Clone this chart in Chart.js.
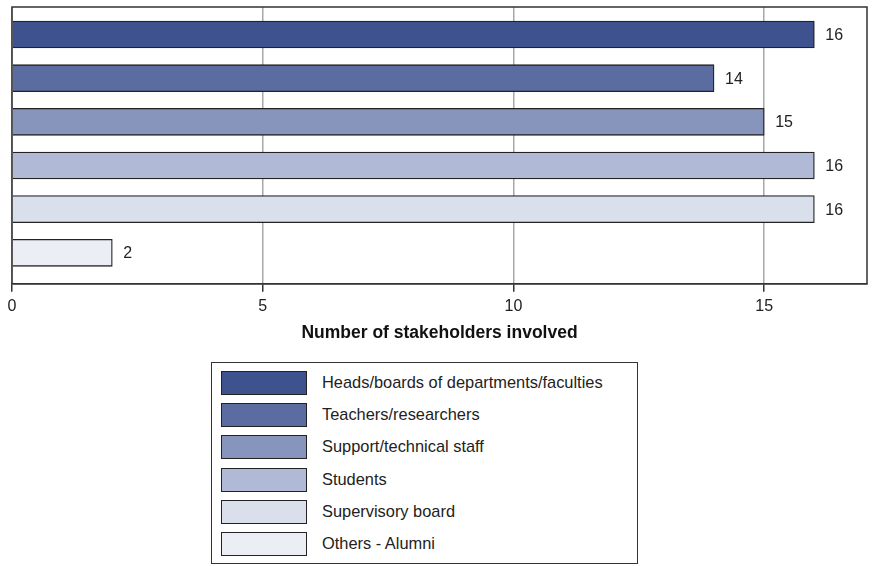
<!DOCTYPE html>
<html>
<head>
<meta charset="utf-8">
<script src="https://cdn.jsdelivr.net/npm/chart.js@4"></script>
<style>
  body { margin: 0; background: #fff; font-family: 'Liberation Sans', Arial, sans-serif; }
  #wrap { position: relative; width: 874px; height: 566px; }
  #chart-box { position: absolute; left: 0; top: 0; width: 874px; height: 344px; }
  #legend {
    position: absolute; left: 211px; top: 362px; width: 427px; height: 202px;
    border: 1px solid #333; box-sizing: border-box;
  }
  .item { position: absolute; left: 9px; height: 24px; }
  .swatch { position: absolute; left: 0; top: 0; width: 86px; height: 24px; border: 1px solid #222; box-sizing: border-box; }
  .label { position: absolute; left: 101px; top: 2px; font-size: 16.4px; color: #222; white-space: nowrap; }
</style>
</head>
<body>
<div id="wrap">
  <div id="chart-box"><canvas id="chart"></canvas></div>
  <div id="legend"></div>
</div>
<script>
// Data
const categories = [
  'Heads/boards of departments/faculties',
  'Teachers/researchers',
  'Support/technical staff',
  'Students',
  'Supervisory board',
  'Others - Alumni'
];
const counts = [16, 14, 15, 16, 16, 2];
const xTicks = [0, 5, 10, 15];
const colors = ['#3d528f', '#5b6ca0', '#8795bc', '#b0b9d5', '#dadfec', '#eceef5'];

// Build legend
const legend = document.getElementById('legend');
categories.forEach((cat, i) => {
  const item = document.createElement('div');
  item.className = 'item';
  item.style.top = (8 + i * 32.2) + 'px';
  const sw = document.createElement('div');
  sw.className = 'swatch';
  sw.style.background = colors[i];
  const lab = document.createElement('div');
  lab.className = 'label';
  lab.textContent = cat;
  item.appendChild(sw);
  item.appendChild(lab);
  legend.appendChild(item);
});

// frame + value labels
const framePlugin = {
  id: 'frame',
  afterDraw(chart) {
    const {ctx, chartArea} = chart;
    ctx.save();
    ctx.strokeStyle = '#333';
    ctx.lineWidth = 1.5;
    ctx.strokeRect(chartArea.left, chartArea.top, chartArea.right - chartArea.left, chartArea.bottom - chartArea.top);
    ctx.fillStyle = '#222';
    ctx.font = '16px "Liberation Sans", Arial, sans-serif';
    ctx.textBaseline = 'middle';
    const meta = chart.getDatasetMeta(0);
    meta.data.forEach((bar, i) => {
      ctx.fillText(String(counts[i]), bar.x + 11, bar.y + 1);
    });
    ctx.restore();
  }
};

new Chart(document.getElementById('chart'), {
  type: 'bar',
  data: {
    datasets: [{
      data: counts.map((v, i) => ({x: v, y: i})),
      backgroundColor: colors,
      borderColor: '#222',
      borderWidth: 1.3,
      barThickness: 27
    }]
  },
  options: {
    indexAxis: 'y',
    responsive: true,
    maintainAspectRatio: false,
    animation: false,
    layout: {padding: {left: 12, right: 7, top: 7, bottom: 0}},
    plugins: {legend: {display: false}, tooltip: {enabled: false}},
    scales: {
      y: {
        type: 'linear',
        min: -0.63,
        max: 5.71,
        reverse: true,
        offset: false,
        display: false
      },
      x: {
        min: 0,
        max: 17.05,
        afterBuildTicks: axis => { axis.ticks = xTicks.map(v => ({value: v})); },
        grid: {color: '#a8a8a8', lineWidth: 1.5, tickColor: '#333', tickLength: 8, drawTicks: true},
        border: {display: true, color: '#333', width: 1.5},
        ticks: {color: '#222', font: {size: 16, family: "'Liberation Sans', Arial, sans-serif"}, padding: 5},
        title: {
          display: true,
          text: 'Number of stakeholders involved',
          color: '#111',
          font: {size: 17.5, weight: 'bold', family: "'Liberation Sans', Arial, sans-serif"},
          padding: {top: 2, bottom: 0}
        }
      }
    }
  },
  plugins: [framePlugin]
});
</script>
</body>
</html>
